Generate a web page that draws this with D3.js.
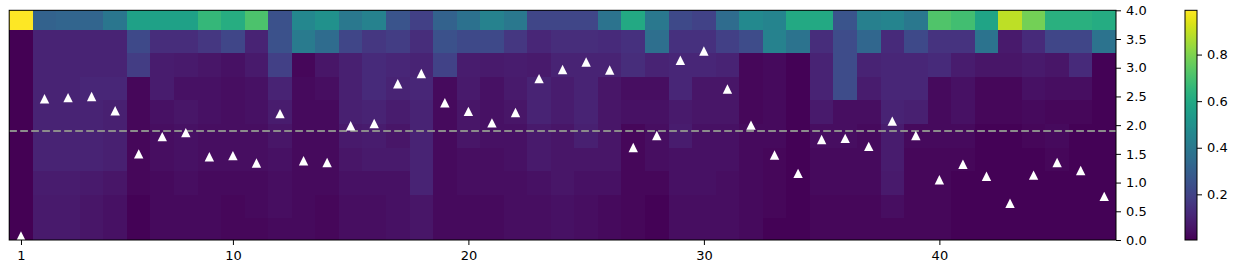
<!DOCTYPE html>
<html>
<head>
<meta charset="utf-8">
<script src="https://cdn.jsdelivr.net/npm/d3@7/dist/d3.min.js"></script>
<style>
  body { margin: 0; background: #fff; }
  text { font-family: "DejaVu Sans", sans-serif; font-size: 13px; fill: #000; }
</style>
</head>
<body>
<div id="chart"></div>
<script>
// column positions (x) and the band edges of the heatmap rows (y)
const columns = [1,2,3,4,5,6,7,8,9,10,11,12,13,14,15,16,17,18,19,20,21,22,23,24,
  25,26,27,28,29,30,31,32,33,34,35,36,37,38,39,40,41,42,43,44,45,46,47];
const bandEdges = [0, 0.38, 0.79, 1.2, 1.61, 2.02, 2.43, 2.84, 3.25, 3.66, 4.0];

// heatmap values, one array per band, bottom band first
const band0 = [0,.07,.07,.06,.05,.01,.03,.03,.03,.02, .02,.03,.03,.02,.04,.04,.05,.06,.03,.03,
  .03,.04,.04,.05,.04,.03,.02,.01,.04,.04, .04,.03,.01,.01,.02,.02,.02,.02,.02,.02, .01,.01,.01,.01,.01,.01,.01];
const band1 = [0,.07,.07,.06,.05,.01,.03,.03,.03,.02, .03,.04,.03,.02,.04,.04,.05,.06,.03,.03,
  .03,.04,.04,.05,.04,.03,.02,.01,.04,.04, .04,.03,.02,.01,.02,.02,.02,.04,.02,.02, .01,.01,.01,.01,.01,.01,.01];
const band2 = [0,.08,.08,.07,.06,.02,.03,.04,.03,.03, .03,.04,.03,.03,.05,.05,.05,.1,.03,.04,
  .04,.04,.05,.06,.05,.05,.02,.02,.05,.05, .04,.03,.02,.01,.03,.03,.03,.07,.02,.02, .01,.01,.01,.01,.01,.01,.01];
const band3 = [0,.1,.1,.1,.09,.02,.04,.05,.04,.04, .04,.05,.03,.03,.06,.07,.07,.1,.03,.04,
  .04,.05,.07,.06,.06,.06,.02,.04,.05,.05, .05,.03,.02,.01,.03,.03,.03,.08,.02,.02, .02,.01,.01,.01,.02,.01,.01];
const band4 = [0,.1,.1,.1,.09,.02,.04,.05,.04,.04, .04,.06,.03,.03,.07,.08,.06,.1,.03,.06,
  .05,.05,.07,.06,.09,.06,.02,.04,.08,.05, .05,.03,.03,.01,.04,.04,.03,.08,.03,.03, .03,.01,.01,.02,.03,.01,.01];
const band5 = [0,.1,.1,.1,.09,.02,.05,.06,.05,.04, .05,.08,.03,.03,.09,.1,.08,.1,.03,.06,
  .05,.06,.1,.08,.1,.06,.05,.05,.07,.06, .06,.02,.03,.01,.07,.04,.04,.1,.09,.03, .05,.02,.02,.03,.02,.02,.01];
const band6 = [0,.1,.1,.11,.11,.02,.08,.05,.05,.04, .05,.1,.03,.04,.09,.12,.1,.11,.03,.07,
  .05,.07,.1,.08,.1,.06,.04,.04,.11,.06, .06,.02,.03,.01,.1,.23,.08,.11,.11,.03, .05,.02,.02,.05,.04,.04,.01];
const band7 = [0,.1,.1,.1,.1,.18,.08,.07,.06,.05, .07,.19,.02,.06,.09,.12,.11,.1,.2,.08,
  .07,.08,.07,.1,.1,.1,.13,.1,.11,.11, .1,.02,.03,.01,.1,.23,.1,.11,.11,.12, .08,.06,.06,.07,.06,.12,.01];
const band8 = [0,.1,.1,.1,.1,.22,.13,.13,.16,.21, .1,.25,.41,.35,.21,.16,.18,.13,.25,.22,
  .22,.16,.11,.13,.13,.12,.14,.36,.14,.14, .19,.23,.44,.38,.13,.23,.33,.12,.22,.15, .15,.38,.07,.12,.21,.21,.38];
const band9 = [.99,.31,.32,.32,.39,.57,.57,.57,.66,.62, .71,.25,.46,.50,.40,.44,.26,.19,.31,.37,
  .44,.40,.21,.21,.21,.38,.60,.40,.22,.20, .35,.47,.45,.60,.60,.26,.43,.45,.40,.72, .69,.58,.89,.78,.63,.63,.61];
const bands = [band0, band1, band2, band3, band4, band5, band6, band7, band8, band9];

// triangle markers
const markerValues = [0.07,2.46,2.48,2.50,2.25,1.50,1.80,1.87,1.45,1.47,
  1.34,2.20,1.38,1.35,1.99,2.03,2.72,2.90,2.39,2.24,
  2.04,2.22,2.81,2.97,3.10,2.96,1.61,1.82,3.13,3.29,
  2.63,2.00,1.48,1.16,1.75,1.77,1.63,2.07,1.82,1.05,
  1.32,1.11,0.64,1.13,1.35,1.21,0.76];
const threshold = 1.9;

// ticks
const xTicks = [1, 10, 20, 30, 40];
const yTicks = [0, 0.5, 1, 1.5, 2, 2.5, 3, 3.5, 4];
const colorTicks = [0.2, 0.4, 0.6, 0.8];
const colorRange = [0.004, 0.99];

const width = 1236, height = 273;
const plot = { left: 9.2, right: 1116, top: 10.3, bottom: 240 };
const bar = { left: 1185, right: 1197 };

const svg = d3.select("#chart").append("svg")
  .attr("width", width)
  .attr("height", height);

const x = d3.scaleLinear().domain([0.5, 47.5]).range([plot.left, plot.right]);
const y = d3.scaleLinear().domain([0, 4]).range([plot.bottom, plot.top]);
const color = d3.scaleSequential(d3.interpolateViridis).domain(colorRange).clamp(true);

// heatmap cells
const cells = [];
bands.forEach((vals, i) => {
  vals.forEach((v, j) => cells.push({ col: columns[j], lo: bandEdges[i], hi: bandEdges[i + 1], v: v }));
});

svg.append("g")
  .attr("shape-rendering", "crispEdges")
  .selectAll("rect")
  .data(cells)
  .enter()
  .append("rect")
  .attr("x", d => x(d.col - 0.5))
  .attr("y", d => y(d.hi))
  .attr("width", d => x(d.col + 0.5) - x(d.col - 0.5))
  .attr("height", d => y(d.lo) - y(d.hi))
  .attr("fill", d => color(d.v));

// dashed threshold line
svg.append("line")
  .attr("x1", plot.left)
  .attr("x2", plot.right)
  .attr("y1", y(threshold))
  .attr("y2", y(threshold))
  .attr("stroke", "#8c8c8c")
  .attr("stroke-width", 2)
  .attr("stroke-dasharray", "7.7,3.3");

// triangles
const h = 4.7;
svg.append("g")
  .selectAll("path")
  .data(markerValues)
  .enter()
  .append("path")
  .attr("d", `M0,${-h}L${h},${h}L${-h},${h}Z`)
  .attr("transform", (d, i) => "translate(" + x(columns[i]) + "," + y(d) + ")")
  .attr("fill", "#fff");

// frame
svg.append("rect")
  .attr("x", plot.left)
  .attr("y", plot.top)
  .attr("width", plot.right - plot.left)
  .attr("height", plot.bottom - plot.top)
  .attr("fill", "none")
  .attr("stroke", "#000")
  .attr("stroke-width", 1);

// x axis
const xAxis = svg.append("g")
  .attr("transform", "translate(0," + plot.bottom + ")")
  .call(d3.axisBottom(x).tickValues(xTicks).tickSize(5).tickPadding(6));
xAxis.select(".domain").remove();
xAxis.selectAll("text").style("font-size", "13px").attr("font-family", null);

// y axis on the right
const yAxis = svg.append("g")
  .attr("transform", "translate(" + plot.right + ",0)")
  .call(d3.axisRight(y).tickValues(yTicks).tickFormat(d3.format(".1f")).tickSize(5).tickPadding(5));
yAxis.select(".domain").remove();
yAxis.selectAll("text").attr("font-family", null);

// colorbar
const cy = d3.scaleLinear().domain(colorRange).range([plot.bottom, plot.top]);
const grad = svg.append("defs").append("linearGradient")
  .attr("id", "viridis")
  .attr("x1", 0).attr("y1", 1).attr("x2", 0).attr("y2", 0);
grad.selectAll("stop")
  .data(d3.range(0, 1.0001, 0.02))
  .enter()
  .append("stop")
  .attr("offset", d => d)
  .attr("stop-color", d => d3.interpolateViridis(d));

svg.append("rect")
  .attr("x", bar.left)
  .attr("y", plot.top)
  .attr("width", bar.right - bar.left)
  .attr("height", plot.bottom - plot.top)
  .attr("fill", "url(#viridis)")
  .attr("stroke", "#000")
  .attr("stroke-width", 1);

const cAxis = svg.append("g")
  .attr("transform", "translate(" + bar.right + ",0)")
  .call(d3.axisRight(cy).tickValues(colorTicks).tickFormat(d3.format(".1f")).tickSize(5).tickPadding(5));
cAxis.select(".domain").remove();
cAxis.selectAll("text").attr("font-family", null);
</script>
</body>
</html>
